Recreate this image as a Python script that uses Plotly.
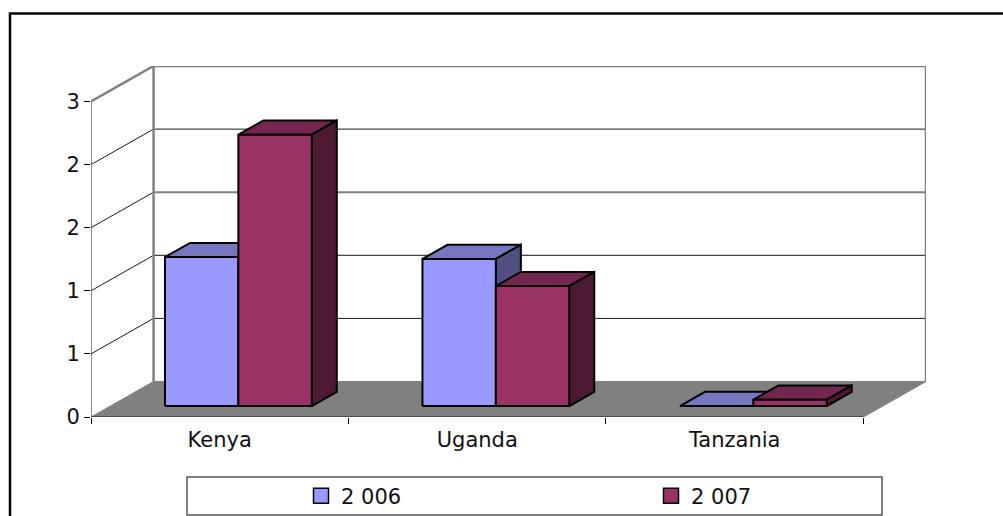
"""
Kenya / Uganda / Tanzania bars, drawn the way a spreadsheet draws 3D columns
"""

import plotly.graph_objects as go

categories = ["Kenya", "Uganda", "Tanzania"]
series_names = ["2 006", "2 007"]
values_2006 = [1.18, 1.165, 0.0]
values_2007 = [2.15, 0.95, 0.05]
y_ticks = [0, 0.5, 1, 1.5, 2, 2.5]
y_tick_labels = ["0", "1", "1", "2", "2", "3"]

# oblique projection: how far the back wall sits from the front plane, in axis units
DEPTH_X = 0.243
DEPTH_Y = 0.281
BAR_D0 = 0.31
BAR_D1 = 0.71
BAR_START = 0.212
BAR_WIDTH = 0.285

LEFT, RIGHT, TOP, BOTTOM = 91, 77, 66, 99
WIDTH, HEIGHT = 1003, 516
FONT = "DejaVu Sans"

COLORS = {
    "2 006": dict(front="#9999FF", top="#7777BF", side="#4F4F82"),
    "2 007": dict(front="#993366", top="#73264F", side="#4D1A33"),
}


def px_x(px):
    return (px - LEFT) / (WIDTH - LEFT - RIGHT)


def px_y(py):
    return (HEIGHT - BOTTOM - py) / (HEIGHT - TOP - BOTTOM)


def project(x, v, d):
    return x + d * DEPTH_X, v + d * DEPTH_Y


def polygon(points, color, line_color="black", line_width=2):
    xs, ys = zip(*[project(*p) for p in points + points[:1]])
    return go.Scatter(x=xs, y=ys, mode="lines", fill="toself", fillcolor=color,
                      line=dict(color=line_color, width=line_width),
                      cliponaxis=False, showlegend=False, hoverinfo="skip")


def wall_line(points, color, width):
    xs, ys = zip(*[project(*p) for p in points])
    return go.Scatter(x=xs, y=ys, mode="lines", line=dict(color=color, width=width),
                      cliponaxis=False, showlegend=False, hoverinfo="skip")


def bar_faces(x0, x1, v, colors):
    top = [(x0, v, BAR_D0), (x1, v, BAR_D0), (x1, v, BAR_D1), (x0, v, BAR_D1)]
    side = [(x1, 0, BAR_D0), (x1, v, BAR_D0), (x1, v, BAR_D1), (x1, 0, BAR_D1)]
    front = [(x0, 0, BAR_D0), (x1, 0, BAR_D0), (x1, v, BAR_D0), (x0, v, BAR_D0)]
    return [polygon(top, colors["top"]), polygon(side, colors["side"]),
            polygon(front, colors["front"])]


fig = go.Figure()

n = len(categories)
y_max = y_ticks[-1]

# floor
fig.add_trace(polygon([(0, 0, 0), (n, 0, 0), (n, 0, 1), (0, 0, 1)], "#808080", "#808080", 1))

# gridlines on the side wall and the back wall
for tick in y_ticks[1:-1]:
    color, width = ("#808080", 2) if tick == 1.5 else ("#1a1a1a", 1)
    fig.add_trace(wall_line([(0, tick, 0), (0, tick, 1)], "#1a1a1a", 1))
    fig.add_trace(wall_line([(0, tick, 1), (n, tick, 1)], color, width))

# wall outline
fig.add_trace(wall_line([(0, y_max, 0), (0, y_max, 1), (n, y_max, 1), (n, 0, 1)], "#808080", 2.5))
fig.add_trace(wall_line([(0, 0, 1), (0, y_max, 1)], "#808080", 2.5))

# front axis lines stop at the front plane, the axes themselves run on to the back wall
fig.add_trace(wall_line([(0, y_max, 0), (0, 0, 0), (n, 0, 0)], "#1a1a1a", 1))

# columns, back to front and left to right
for i in range(n):
    for name, vals in zip(series_names, [values_2006, values_2007]):
        offset = series_names.index(name) * BAR_WIDTH
        x0 = i + BAR_START + offset
        for face in bar_faces(x0, x0 + BAR_WIDTH, vals[i], COLORS[name]):
            fig.add_trace(face)

# legend entries only
for name, legend_id in zip(series_names, ["legend", "legend2"]):
    fig.add_trace(go.Scatter(x=[None], y=[None], mode="markers", name=name, legend=legend_id,
                             marker=dict(symbol="square", size=15, color=COLORS[name]["front"],
                                         line=dict(color="black", width=1.5))))

fig.update_xaxes(
    range=[0, n + DEPTH_X], tickmode="array", tickvals=[i + 0.5 for i in range(n)],
    ticktext=categories, ticks="", showgrid=False, zeroline=False, showline=False,
    ticklabelstandoff=8,
    minor=dict(tickmode="array", tickvals=list(range(n + 1)), ticks="outside", ticklen=6,
               tickcolor="black", showgrid=False),
    tickfont=dict(family=FONT, size=21, color="#111111"),
)
fig.update_yaxes(
    range=[0, y_max + DEPTH_Y], tickmode="array", tickvals=y_ticks, ticktext=y_tick_labels,
    ticks="outside", ticklen=6, tickcolor="black", showgrid=False, zeroline=False,
    showline=False, tickfont=dict(family=FONT, size=21, color="#111111"),
)

legend_style = dict(xanchor="left", yanchor="middle", bgcolor="rgba(0,0,0,0)",
                    font=dict(family=FONT, size=21, color="#111111"))

frame = f"M{px_x(10)},{px_y(516)} L{px_x(10)},{px_y(13.5)} L{px_x(1003)},{px_y(13.5)}"
fig.update_layout(
    width=WIDTH, height=HEIGHT,
    margin=dict(l=LEFT, r=RIGHT, t=TOP, b=BOTTOM, autoexpand=False),
    paper_bgcolor="white", plot_bgcolor="white",
    shapes=[
        dict(type="path", path=frame, xref="paper", yref="paper",
             line=dict(color="black", width=2.5)),
        dict(type="rect", xref="paper", yref="paper", x0=px_x(187), x1=px_x(882),
             y0=px_y(477), y1=px_y(515), line=dict(color="#555555", width=1.5), fillcolor="white"),
    ],
    legend=dict(x=px_x(301), y=px_y(496), **legend_style),
    legend2=dict(x=px_x(651), y=px_y(496), **legend_style),
)

fig.write_html("out.html", config=dict(displayModeBar=False),
               post_script="document.body.style.margin='0';")
